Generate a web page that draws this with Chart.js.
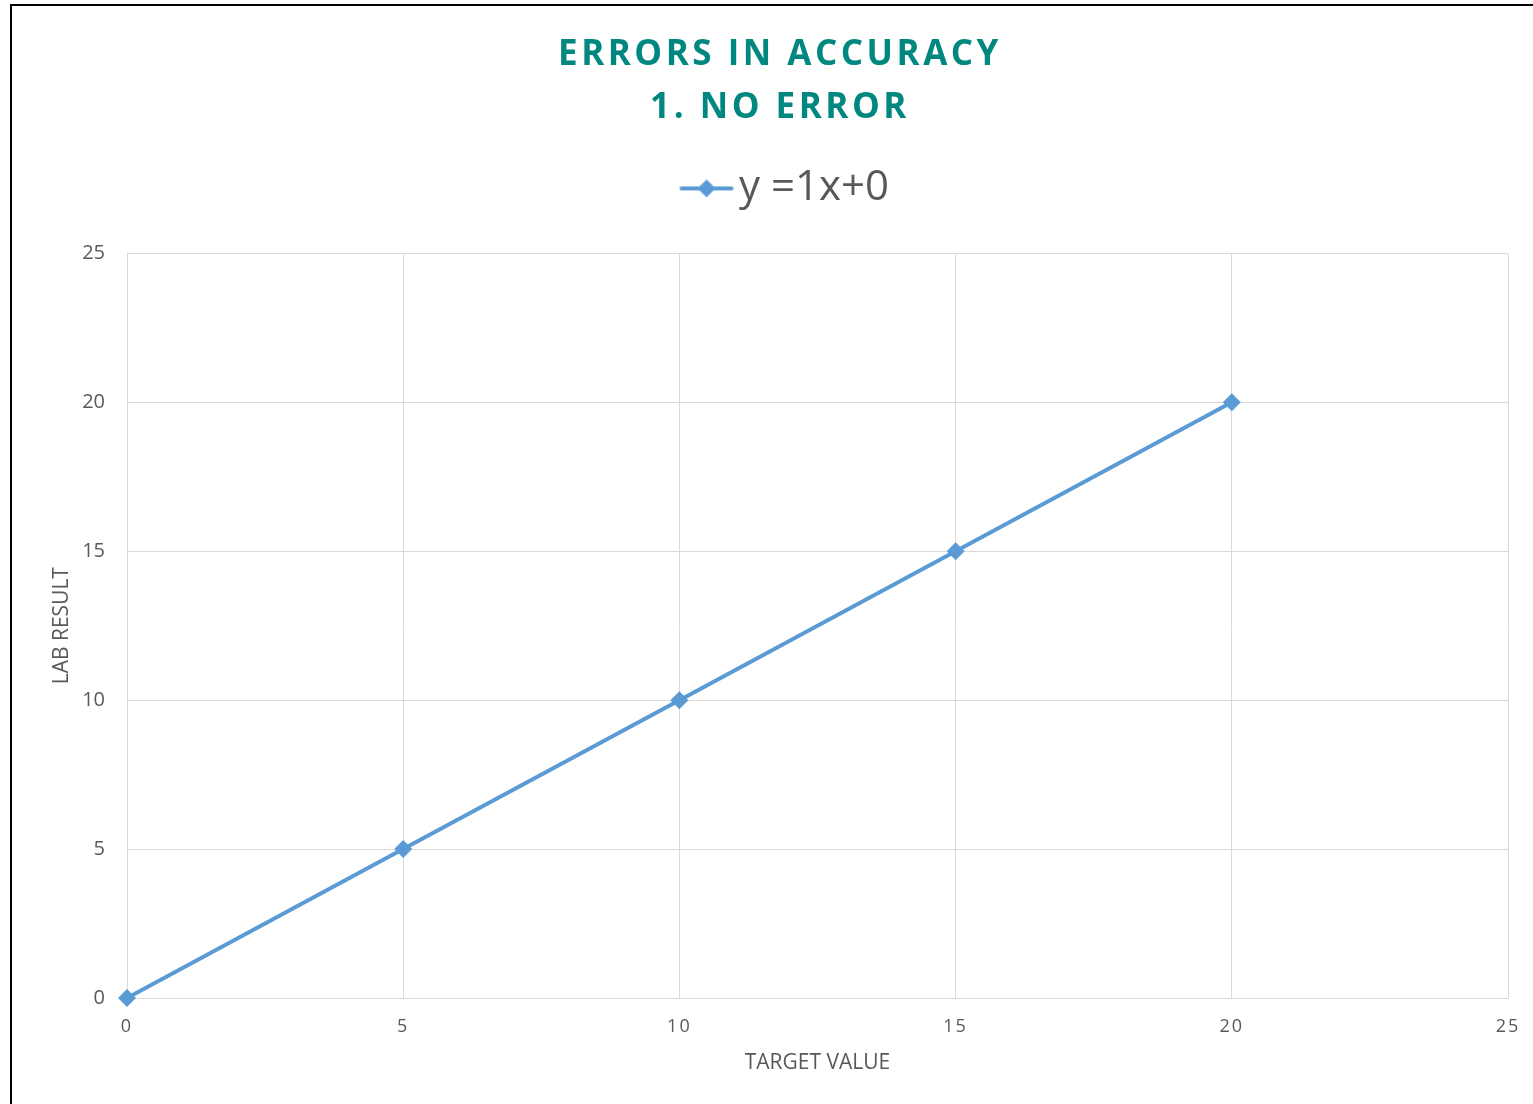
<!DOCTYPE html>
<html>
<head>
<meta charset="utf-8">
<script src="https://cdn.jsdelivr.net/npm/chart.js@4.4.1/dist/chart.umd.min.js"></script>
<style>
html, body { margin: 0; padding: 0; background: #fff; overflow: hidden; }
#wrap { position: relative; width: 1533px; height: 1104px; }
</style>
</head>
<body>
<div id="wrap"><canvas id="myChart"></canvas></div>
<script>
const targetValues = [0, 5, 10, 15, 20];
const labResults = [0, 5, 10, 15, 20];
const seriesName = "y =1x+0";
const titleLines = ["ERRORS IN ACCURACY", "1. NO ERROR"];
const axisMin = 0;
const axisMax = 25;
const axisStep = 5;

const blue = "#5b9bd5";
const grey = "#595959";
const gridColor = "#d9d9d9";
const teal = "#008780";

Chart.defaults.font.family = "'Open Sans', sans-serif";

// legend swatch: a line with a diamond in the middle (drawn right of the image centre)
const swatch = document.createElement("canvas");
swatch.width = 80;
swatch.height = 20;
const sc = swatch.getContext("2d");
sc.strokeStyle = blue;
sc.lineWidth = 4;
sc.lineCap = "round";
sc.beginPath(); sc.moveTo(27, 10); sc.lineTo(77, 10); sc.stroke();
sc.fillStyle = blue;
sc.beginPath(); sc.moveTo(52, 1); sc.lineTo(61, 10); sc.lineTo(52, 19); sc.lineTo(43, 10); sc.closePath(); sc.fill();

// spaced letters for the title and x tick labels, a gap under the legend, and the outer frame
const frame = {
  id: "frame",
  beforeLayout(chart) {
    const lg = chart.legend;
    if (lg && !lg._tall) {
      const fit = lg.fit.bind(lg);
      lg.fit = function () { fit(); this.height += 34; };
      lg._tall = true;
    }
  },
  beforeDraw(chart) {
    const ctx = chart.ctx;
    const t = chart.titleBlock;
    if (t && !t._spaced) {
      const draw = t.draw.bind(t);
      t.draw = function () { ctx.save(); ctx.letterSpacing = "3.5px"; draw(); ctx.restore(); };
      t._spaced = true;
    }
    const x = chart.scales.x;
    if (x && !x._spaced) {
      const drawLabels = x.drawLabels.bind(x);
      x.drawLabels = function (area) { ctx.save(); ctx.letterSpacing = "2px"; drawLabels(area); ctx.restore(); };
      x._spaced = true;
    }
  },
  afterDraw(chart) {
    const ctx = chart.ctx;
    ctx.save();
    ctx.strokeStyle = "#000";
    ctx.lineWidth = 2;
    ctx.beginPath();
    ctx.moveTo(11, chart.height);
    ctx.lineTo(11, 5);
    ctx.lineTo(chart.width, 5);
    ctx.stroke();
    ctx.restore();
  }
};

new Chart("myChart", {
  type: "scatter",
  data: {
    datasets: [{
      label: seriesName,
      data: targetValues.map((v, i) => ({ x: v, y: labResults[i] })),
      showLine: true,
      clip: false,
      borderColor: blue,
      backgroundColor: blue,
      borderWidth: 4,
      pointStyle: "rectRot",
      pointRadius: 9,
      pointBorderWidth: 0
    }]
  },
  options: {
    responsive: true,
    maintainAspectRatio: false,
    animation: false,
    layout: { padding: { left: 52, right: 25, top: 0, bottom: 0 } },
    plugins: {
      title: {
        display: true,
        text: titleLines,
        color: teal,
        font: { size: 35, weight: "bold", lineHeight: 1.52 },
        padding: { top: 28, bottom: 23 }
      },
      legend: {
        labels: {
          usePointStyle: true,
          pointStyle: swatch,
          pointStyleWidth: 47,
          color: grey,
          font: { size: 42 },
          padding: 10
        }
      },
      tooltip: { enabled: false }
    },
    scales: {
      x: {
        type: "linear",
        min: axisMin,
        max: axisMax,
        ticks: { stepSize: axisStep, padding: 18, color: grey, font: { size: 18 } },
        grid: { color: gridColor, drawTicks: false },
        border: { color: gridColor },
        title: { display: true, text: "TARGET VALUE", color: grey, font: { size: 21 }, padding: { top: 0, bottom: 28 } },
        afterFit(s) { s.height = 106; s.paddingRight = 0; }
      },
      y: {
        min: axisMin,
        max: axisMax,
        ticks: { stepSize: axisStep, padding: 22, color: grey, font: { size: 20 } },
        grid: { color: gridColor, drawTicks: false },
        border: { color: gridColor },
        title: { display: true, text: "LAB RESULT", color: grey, font: { size: 21 }, padding: { top: -3, bottom: 0 } },
        afterFit(s) { s.width = 75; }
      }
    }
  },
  plugins: [frame]
});
</script>
</body>
</html>
